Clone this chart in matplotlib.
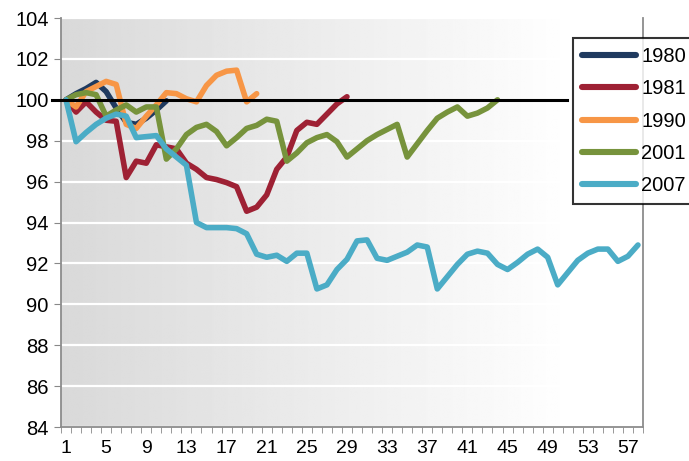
import numpy as np
import matplotlib.pyplot as plt

plt.rcParams['font.family'] = ['Liberation Sans', 'DejaVu Sans']

# index values per week/month since start (start = 100)
s1980 = [100, 100.3, 100.55, 100.85, 100.4, 99.6, 98.9, 98.8, 99.1, 99.5, 99.95]
s1981 = [100, 99.4, 99.9, 99.4, 99.0, 98.95, 96.2, 97.0, 96.9, 97.8,
         97.7, 97.6, 96.9, 96.6, 96.2, 96.1, 95.95, 95.75, 94.55, 94.75,
         95.35, 96.6, 97.2, 98.5, 98.9, 98.8, 99.3, 99.8, 100.15]
s1990 = [100, 99.65, 100.4, 100.65, 100.9, 100.75, 98.8, 98.6, 99.2, 99.75,
         100.35, 100.3, 100.05, 99.9, 100.7, 101.2, 101.4, 101.45, 99.9, 100.3]
s2001 = [100, 100.25, 100.35, 100.25, 99.2, 99.5, 99.75, 99.4, 99.65, 99.65,
         97.1, 97.6, 98.3, 98.65, 98.8, 98.45, 97.75, 98.15, 98.6, 98.75,
         99.05, 98.95, 97.0, 97.4, 97.9, 98.15, 98.3, 97.95, 97.2, 97.6,
         98.0, 98.3, 98.55, 98.8, 97.2, 97.85, 98.5, 99.1, 99.4, 99.65,
         99.2, 99.35, 99.6, 100.0]
s2007 = [100, 97.95, 98.4, 98.8, 99.1, 99.3, 99.2, 98.15, 98.2, 98.25,
         97.6, 97.2, 96.8, 94.0, 93.75, 93.75, 93.75, 93.7, 93.45, 92.45,
         92.3, 92.4, 92.1, 92.5, 92.5, 90.75, 90.95, 91.7, 92.2, 93.1,
         93.15, 92.25, 92.15, 92.35, 92.55, 92.9, 92.8, 90.75, 91.35, 91.95,
         92.45, 92.6, 92.5, 91.95, 91.7, 92.05, 92.45, 92.7, 92.3, 90.95,
         91.55, 92.15, 92.5, 92.7, 92.7, 92.1, 92.35, 92.9]

series = [('1980', s1980, '#1F3A5F'),
          ('1981', s1981, '#9E2134'),
          ('1990', s1990, '#F79646'),
          ('2001', s2001, '#77933C'),
          ('2007', s2007, '#4BACC6')]

n_cat = 58
xtick_labels = list(range(1, n_cat + 1, 4))

fig = plt.figure(figsize=(6.89, 4.61), dpi=100)
ax = fig.add_axes([61/689, 1 - 427/461, 582/689, 409/461])

# grey -> white gradient background
g = np.clip(np.linspace(0.85, 1.0 + 0.15 * 0.12 / 0.88, 256), 0, 1)
grad = np.tile(g, (2, 1))
ax.imshow(grad, extent=[0, 1, 0, 1], transform=ax.transAxes, aspect='auto',
          cmap='gray', vmin=0, vmax=1, zorder=0, interpolation='bilinear')

ax.set_axisbelow(True)
ax.yaxis.grid(True, color='white', linewidth=1.6, zorder=0.5)

for name, vals, col in series:
    x = np.arange(1, len(vals) + 1)
    ax.plot(x, vals, color=col, linewidth=4.0, label=name, zorder=3,
            solid_joinstyle='round', solid_capstyle='round')

# reference line at 100
ax.plot([-0.4, 50.95], [100, 100], color='black', linewidth=2.2,
        zorder=4, clip_on=False)

ax.set_xlim(0.5, n_cat + 0.5)
ax.set_ylim(84, 104)
ax.set_yticks(np.arange(84, 105, 2))
ax.set_xticks(xtick_labels)
ax.set_xticks(np.arange(0.5, n_cat + 1, 1), minor=True)
ax.tick_params(axis='x', which='major', length=0, pad=9, labelsize=14)
ax.tick_params(axis='x', which='minor', length=4, color='#888888', direction='out')
ax.tick_params(axis='y', length=5, color='#888888', labelsize=14.5, pad=4)

for sp in ['left', 'bottom', 'right']:
    ax.spines[sp].set_color('#8c8c8c')
    ax.spines[sp].set_linewidth(1.3)
ax.spines['top'].set_visible(False)

leg = fig.legend(loc='upper left', bbox_to_anchor=(573/689, 1 - 38/461),
                 borderaxespad=0, fontsize=14.5, frameon=True, fancybox=False,
                 edgecolor='black', handlelength=2.7, handletextpad=0.25,
                 labelspacing=0.66, borderpad=0.45)
leg.get_frame().set_linewidth(1.5)
for line in leg.get_lines():
    line.set_linewidth(4.4)

fig.savefig('out.png', dpi=100)
